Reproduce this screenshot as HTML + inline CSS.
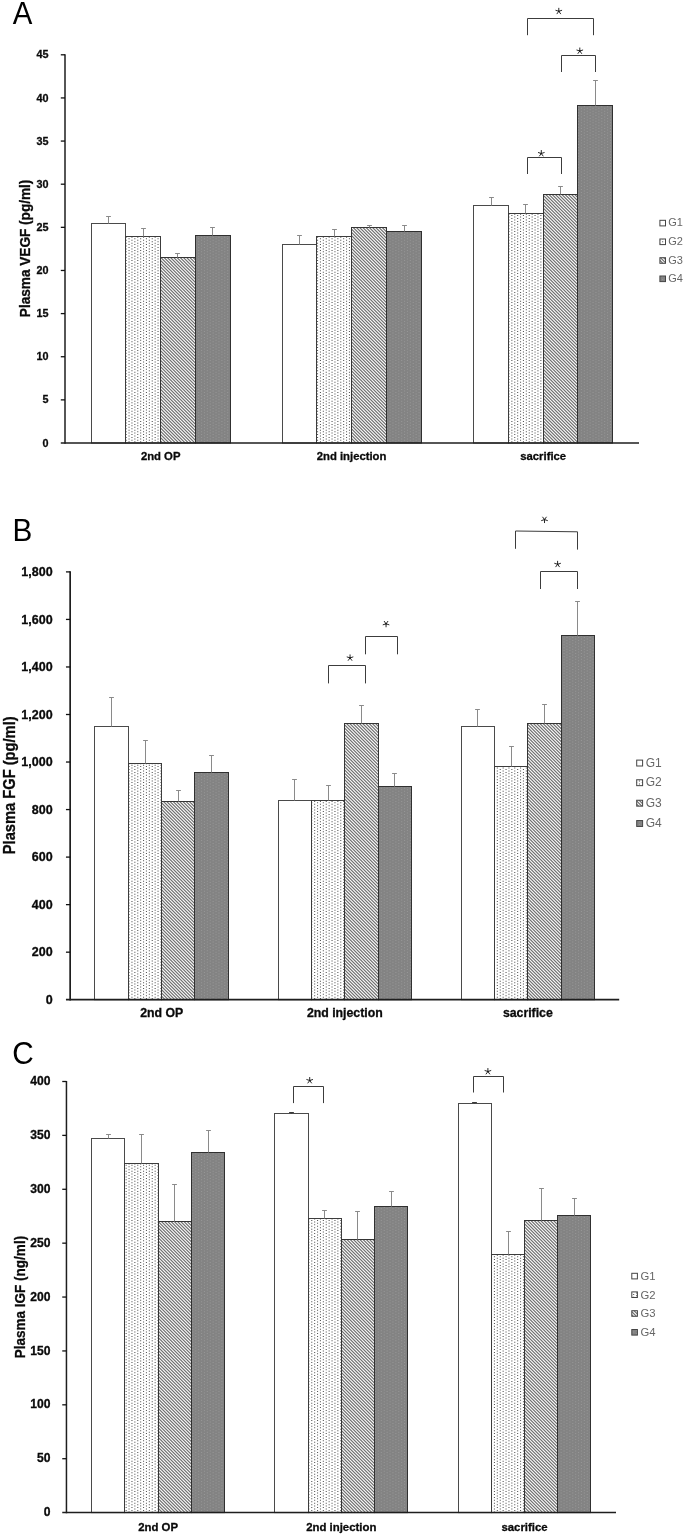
<!DOCTYPE html>
<html><head><meta charset="utf-8"><title>Figure</title>
<style>
html,body{margin:0;padding:0;background:#fff;}
body{width:685px;height:1535px;overflow:hidden;font-family:"Liberation Sans",sans-serif;}
svg{display:block;will-change:transform;}
.b{font-weight:bold;fill:#0a0a0a;stroke:#0a0a0a;stroke-width:0.3px;}
text{font-family:"Liberation Sans",sans-serif;}
</style></head><body>
<svg width="685" height="1535" viewBox="0 0 685 1535">
<defs>
<path id="dots" d="M0.9 0.5h1.1v1h-1.1zM3.8 1.95h1.1v1h-1.1zM6.7 0.5h1.1v1h-1.1zM9.6 1.95h1.1v1h-1.1zM12.5 0.5h1.1v1h-1.1zM15.4 1.95h1.1v1h-1.1zM18.3 0.5h1.1v1h-1.1zM21.2 1.95h1.1v1h-1.1zM24.1 0.5h1.1v1h-1.1zM27 1.95h1.1v1h-1.1zM0.9 3.4h1.1v1h-1.1zM3.8 4.85h1.1v1h-1.1zM6.7 3.4h1.1v1h-1.1zM9.6 4.85h1.1v1h-1.1zM12.5 3.4h1.1v1h-1.1zM15.4 4.85h1.1v1h-1.1zM18.3 3.4h1.1v1h-1.1zM21.2 4.85h1.1v1h-1.1zM24.1 3.4h1.1v1h-1.1zM27 4.85h1.1v1h-1.1zM0.9 6.3h1.1v1h-1.1zM3.8 7.75h1.1v1h-1.1zM6.7 6.3h1.1v1h-1.1zM9.6 7.75h1.1v1h-1.1zM12.5 6.3h1.1v1h-1.1zM15.4 7.75h1.1v1h-1.1zM18.3 6.3h1.1v1h-1.1zM21.2 7.75h1.1v1h-1.1zM24.1 6.3h1.1v1h-1.1zM27 7.75h1.1v1h-1.1zM0.9 9.2h1.1v1h-1.1zM3.8 10.65h1.1v1h-1.1zM6.7 9.2h1.1v1h-1.1zM9.6 10.65h1.1v1h-1.1zM12.5 9.2h1.1v1h-1.1zM15.4 10.65h1.1v1h-1.1zM18.3 9.2h1.1v1h-1.1zM21.2 10.65h1.1v1h-1.1zM24.1 9.2h1.1v1h-1.1zM27 10.65h1.1v1h-1.1zM0.9 12.1h1.1v1h-1.1zM3.8 13.55h1.1v1h-1.1zM6.7 12.1h1.1v1h-1.1zM9.6 13.55h1.1v1h-1.1zM12.5 12.1h1.1v1h-1.1zM15.4 13.55h1.1v1h-1.1zM18.3 12.1h1.1v1h-1.1zM21.2 13.55h1.1v1h-1.1zM24.1 12.1h1.1v1h-1.1zM27 13.55h1.1v1h-1.1zM0.9 15h1.1v1h-1.1zM3.8 16.45h1.1v1h-1.1zM6.7 15h1.1v1h-1.1zM9.6 16.45h1.1v1h-1.1zM12.5 15h1.1v1h-1.1zM15.4 16.45h1.1v1h-1.1zM18.3 15h1.1v1h-1.1zM21.2 16.45h1.1v1h-1.1zM24.1 15h1.1v1h-1.1zM27 16.45h1.1v1h-1.1zM0.9 17.9h1.1v1h-1.1zM3.8 19.35h1.1v1h-1.1zM6.7 17.9h1.1v1h-1.1zM9.6 19.35h1.1v1h-1.1zM12.5 17.9h1.1v1h-1.1zM15.4 19.35h1.1v1h-1.1zM18.3 17.9h1.1v1h-1.1zM21.2 19.35h1.1v1h-1.1zM24.1 17.9h1.1v1h-1.1zM27 19.35h1.1v1h-1.1zM0.9 20.8h1.1v1h-1.1zM3.8 22.25h1.1v1h-1.1zM6.7 20.8h1.1v1h-1.1zM9.6 22.25h1.1v1h-1.1zM12.5 20.8h1.1v1h-1.1zM15.4 22.25h1.1v1h-1.1zM18.3 20.8h1.1v1h-1.1zM21.2 22.25h1.1v1h-1.1zM24.1 20.8h1.1v1h-1.1zM27 22.25h1.1v1h-1.1zM0.9 23.7h1.1v1h-1.1zM3.8 25.15h1.1v1h-1.1zM6.7 23.7h1.1v1h-1.1zM9.6 25.15h1.1v1h-1.1zM12.5 23.7h1.1v1h-1.1zM15.4 25.15h1.1v1h-1.1zM18.3 23.7h1.1v1h-1.1zM21.2 25.15h1.1v1h-1.1zM24.1 23.7h1.1v1h-1.1zM27 25.15h1.1v1h-1.1zM0.9 26.6h1.1v1h-1.1zM3.8 28.05h1.1v1h-1.1zM6.7 26.6h1.1v1h-1.1zM9.6 28.05h1.1v1h-1.1zM12.5 26.6h1.1v1h-1.1zM15.4 28.05h1.1v1h-1.1zM18.3 26.6h1.1v1h-1.1zM21.2 28.05h1.1v1h-1.1zM24.1 26.6h1.1v1h-1.1zM27 28.05h1.1v1h-1.1z"/>
<pattern id="p2" width="29" height="29" patternUnits="userSpaceOnUse"><rect width="29" height="29" fill="#fff"/><use href="#dots" fill="#585858"/></pattern>
<pattern id="p4" width="29" height="29" patternUnits="userSpaceOnUse"><rect width="29" height="29" fill="#838383"/><use href="#dots" fill="#969696"/></pattern>
<pattern id="p3" width="29" height="29" patternUnits="userSpaceOnUse"><g shape-rendering="crispEdges"><path fill="#727272" d="M0 0h1v1h-1zM1 1h1v1h-1zM2 2h1v1h-1zM3 3h1v1h-1zM4 4h1v1h-1zM5 5h1v1h-1zM6 6h1v1h-1zM7 7h1v1h-1zM8 8h1v1h-1zM9 9h1v1h-1zM10 10h1v1h-1zM11 11h1v1h-1zM12 12h1v1h-1zM13 13h1v1h-1zM14 14h1v1h-1zM15 15h1v1h-1zM16 16h1v1h-1zM17 17h1v1h-1zM18 18h1v1h-1zM19 19h1v1h-1zM20 20h1v1h-1zM21 21h1v1h-1zM22 22h1v1h-1zM23 23h1v1h-1zM24 24h1v1h-1zM25 25h1v1h-1zM26 26h1v1h-1zM27 27h1v1h-1zM28 28h1v1h-1z"/><path fill="#cccccc" d="M1 0h1v1h-1zM2 1h1v1h-1zM3 2h1v1h-1zM4 3h1v1h-1zM5 4h1v1h-1zM6 5h1v1h-1zM7 6h1v1h-1zM8 7h1v1h-1zM9 8h1v1h-1zM10 9h1v1h-1zM11 10h1v1h-1zM12 11h1v1h-1zM13 12h1v1h-1zM14 13h1v1h-1zM15 14h1v1h-1zM16 15h1v1h-1zM17 16h1v1h-1zM18 17h1v1h-1zM19 18h1v1h-1zM20 19h1v1h-1zM21 20h1v1h-1zM22 21h1v1h-1zM23 22h1v1h-1zM24 23h1v1h-1zM25 24h1v1h-1zM26 25h1v1h-1zM27 26h1v1h-1zM28 27h1v1h-1zM0 28h1v1h-1z"/><path fill="#e4e4e4" d="M2 0h1v1h-1zM3 1h1v1h-1zM4 2h1v1h-1zM5 3h1v1h-1zM6 4h1v1h-1zM7 5h1v1h-1zM8 6h1v1h-1zM9 7h1v1h-1zM10 8h1v1h-1zM11 9h1v1h-1zM12 10h1v1h-1zM13 11h1v1h-1zM14 12h1v1h-1zM15 13h1v1h-1zM16 14h1v1h-1zM17 15h1v1h-1zM18 16h1v1h-1zM19 17h1v1h-1zM20 18h1v1h-1zM21 19h1v1h-1zM22 20h1v1h-1zM23 21h1v1h-1zM24 22h1v1h-1zM25 23h1v1h-1zM26 24h1v1h-1zM27 25h1v1h-1zM28 26h1v1h-1zM0 27h1v1h-1zM1 28h1v1h-1z"/><path fill="#787878" d="M3 0h1v1h-1zM4 1h1v1h-1zM5 2h1v1h-1zM6 3h1v1h-1zM7 4h1v1h-1zM8 5h1v1h-1zM9 6h1v1h-1zM10 7h1v1h-1zM11 8h1v1h-1zM12 9h1v1h-1zM13 10h1v1h-1zM14 11h1v1h-1zM15 12h1v1h-1zM16 13h1v1h-1zM17 14h1v1h-1zM18 15h1v1h-1zM19 16h1v1h-1zM20 17h1v1h-1zM21 18h1v1h-1zM22 19h1v1h-1zM23 20h1v1h-1zM24 21h1v1h-1zM25 22h1v1h-1zM26 23h1v1h-1zM27 24h1v1h-1zM28 25h1v1h-1zM0 26h1v1h-1zM1 27h1v1h-1zM2 28h1v1h-1z"/><path fill="#b0b0b0" d="M4 0h1v1h-1zM5 1h1v1h-1zM6 2h1v1h-1zM7 3h1v1h-1zM8 4h1v1h-1zM9 5h1v1h-1zM10 6h1v1h-1zM11 7h1v1h-1zM12 8h1v1h-1zM13 9h1v1h-1zM14 10h1v1h-1zM15 11h1v1h-1zM16 12h1v1h-1zM17 13h1v1h-1zM18 14h1v1h-1zM19 15h1v1h-1zM20 16h1v1h-1zM21 17h1v1h-1zM22 18h1v1h-1zM23 19h1v1h-1zM24 20h1v1h-1zM25 21h1v1h-1zM26 22h1v1h-1zM27 23h1v1h-1zM28 24h1v1h-1zM0 25h1v1h-1zM1 26h1v1h-1zM2 27h1v1h-1zM3 28h1v1h-1z"/><path fill="#f3f3f3" d="M5 0h1v1h-1zM6 1h1v1h-1zM7 2h1v1h-1zM8 3h1v1h-1zM9 4h1v1h-1zM10 5h1v1h-1zM11 6h1v1h-1zM12 7h1v1h-1zM13 8h1v1h-1zM14 9h1v1h-1zM15 10h1v1h-1zM16 11h1v1h-1zM17 12h1v1h-1zM18 13h1v1h-1zM19 14h1v1h-1zM20 15h1v1h-1zM21 16h1v1h-1zM22 17h1v1h-1zM23 18h1v1h-1zM24 19h1v1h-1zM25 20h1v1h-1zM26 21h1v1h-1zM27 22h1v1h-1zM28 23h1v1h-1zM0 24h1v1h-1zM1 25h1v1h-1zM2 26h1v1h-1zM3 27h1v1h-1zM4 28h1v1h-1z"/><path fill="#898989" d="M6 0h1v1h-1zM7 1h1v1h-1zM8 2h1v1h-1zM9 3h1v1h-1zM10 4h1v1h-1zM11 5h1v1h-1zM12 6h1v1h-1zM13 7h1v1h-1zM14 8h1v1h-1zM15 9h1v1h-1zM16 10h1v1h-1zM17 11h1v1h-1zM18 12h1v1h-1zM19 13h1v1h-1zM20 14h1v1h-1zM21 15h1v1h-1zM22 16h1v1h-1zM23 17h1v1h-1zM24 18h1v1h-1zM25 19h1v1h-1zM26 20h1v1h-1zM27 21h1v1h-1zM28 22h1v1h-1zM0 23h1v1h-1zM1 24h1v1h-1zM2 25h1v1h-1zM3 26h1v1h-1zM4 27h1v1h-1zM5 28h1v1h-1z"/><path fill="#959595" d="M7 0h1v1h-1zM8 1h1v1h-1zM9 2h1v1h-1zM10 3h1v1h-1zM11 4h1v1h-1zM12 5h1v1h-1zM13 6h1v1h-1zM14 7h1v1h-1zM15 8h1v1h-1zM16 9h1v1h-1zM17 10h1v1h-1zM18 11h1v1h-1zM19 12h1v1h-1zM20 13h1v1h-1zM21 14h1v1h-1zM22 15h1v1h-1zM23 16h1v1h-1zM24 17h1v1h-1zM25 18h1v1h-1zM26 19h1v1h-1zM27 20h1v1h-1zM28 21h1v1h-1zM0 22h1v1h-1zM1 23h1v1h-1zM2 24h1v1h-1zM3 25h1v1h-1zM4 26h1v1h-1zM5 27h1v1h-1zM6 28h1v1h-1z"/><path fill="#f6f6f6" d="M8 0h1v1h-1zM9 1h1v1h-1zM10 2h1v1h-1zM11 3h1v1h-1zM12 4h1v1h-1zM13 5h1v1h-1zM14 6h1v1h-1zM15 7h1v1h-1zM16 8h1v1h-1zM17 9h1v1h-1zM18 10h1v1h-1zM19 11h1v1h-1zM20 12h1v1h-1zM21 13h1v1h-1zM22 14h1v1h-1zM23 15h1v1h-1zM24 16h1v1h-1zM25 17h1v1h-1zM26 18h1v1h-1zM27 19h1v1h-1zM28 20h1v1h-1zM0 21h1v1h-1zM1 22h1v1h-1zM2 23h1v1h-1zM3 24h1v1h-1zM4 25h1v1h-1zM5 26h1v1h-1zM6 27h1v1h-1zM7 28h1v1h-1z"/><path fill="#a2a2a2" d="M9 0h1v1h-1zM10 1h1v1h-1zM11 2h1v1h-1zM12 3h1v1h-1zM13 4h1v1h-1zM14 5h1v1h-1zM15 6h1v1h-1zM16 7h1v1h-1zM17 8h1v1h-1zM18 9h1v1h-1zM19 10h1v1h-1zM20 11h1v1h-1zM21 12h1v1h-1zM22 13h1v1h-1zM23 14h1v1h-1zM24 15h1v1h-1zM25 16h1v1h-1zM26 17h1v1h-1zM27 18h1v1h-1zM28 19h1v1h-1zM0 20h1v1h-1zM1 21h1v1h-1zM2 22h1v1h-1zM3 23h1v1h-1zM4 24h1v1h-1zM5 25h1v1h-1zM6 26h1v1h-1zM7 27h1v1h-1zM8 28h1v1h-1z"/><path fill="#7f7f7f" d="M10 0h1v1h-1zM11 1h1v1h-1zM12 2h1v1h-1zM13 3h1v1h-1zM14 4h1v1h-1zM15 5h1v1h-1zM16 6h1v1h-1zM17 7h1v1h-1zM18 8h1v1h-1zM19 9h1v1h-1zM20 10h1v1h-1zM21 11h1v1h-1zM22 12h1v1h-1zM23 13h1v1h-1zM24 14h1v1h-1zM25 15h1v1h-1zM26 16h1v1h-1zM27 17h1v1h-1zM28 18h1v1h-1zM0 19h1v1h-1zM1 20h1v1h-1zM2 21h1v1h-1zM3 22h1v1h-1zM4 23h1v1h-1zM5 24h1v1h-1zM6 25h1v1h-1zM7 26h1v1h-1zM8 27h1v1h-1zM9 28h1v1h-1z"/><path fill="#ededed" d="M11 0h1v1h-1zM12 1h1v1h-1zM13 2h1v1h-1zM14 3h1v1h-1zM15 4h1v1h-1zM16 5h1v1h-1zM17 6h1v1h-1zM18 7h1v1h-1zM19 8h1v1h-1zM20 9h1v1h-1zM21 10h1v1h-1zM22 11h1v1h-1zM23 12h1v1h-1zM24 13h1v1h-1zM25 14h1v1h-1zM26 15h1v1h-1zM27 16h1v1h-1zM28 17h1v1h-1zM0 18h1v1h-1zM1 19h1v1h-1zM2 20h1v1h-1zM3 21h1v1h-1zM4 22h1v1h-1zM5 23h1v1h-1zM6 24h1v1h-1zM7 25h1v1h-1zM8 26h1v1h-1zM9 27h1v1h-1zM10 28h1v1h-1z"/><path fill="#bfbfbf" d="M12 0h1v1h-1zM13 1h1v1h-1zM14 2h1v1h-1zM15 3h1v1h-1zM16 4h1v1h-1zM17 5h1v1h-1zM18 6h1v1h-1zM19 7h1v1h-1zM20 8h1v1h-1zM21 9h1v1h-1zM22 10h1v1h-1zM23 11h1v1h-1zM24 12h1v1h-1zM25 13h1v1h-1zM26 14h1v1h-1zM27 15h1v1h-1zM28 16h1v1h-1zM0 17h1v1h-1zM1 18h1v1h-1zM2 19h1v1h-1zM3 20h1v1h-1zM4 21h1v1h-1zM5 22h1v1h-1zM6 23h1v1h-1zM7 24h1v1h-1zM8 25h1v1h-1zM9 26h1v1h-1zM10 27h1v1h-1zM11 28h1v1h-1z"/><path fill="#747474" d="M13 0h1v1h-1zM14 1h1v1h-1zM15 2h1v1h-1zM16 3h1v1h-1zM17 4h1v1h-1zM18 5h1v1h-1zM19 6h1v1h-1zM20 7h1v1h-1zM21 8h1v1h-1zM22 9h1v1h-1zM23 10h1v1h-1zM24 11h1v1h-1zM25 12h1v1h-1zM26 13h1v1h-1zM27 14h1v1h-1zM28 15h1v1h-1zM0 16h1v1h-1zM1 17h1v1h-1zM2 18h1v1h-1zM3 19h1v1h-1zM4 20h1v1h-1zM5 21h1v1h-1zM6 22h1v1h-1zM7 23h1v1h-1zM8 24h1v1h-1zM9 25h1v1h-1zM10 26h1v1h-1zM11 27h1v1h-1zM12 28h1v1h-1z"/><path fill="#d9d9d9" d="M14 0h1v1h-1zM15 1h1v1h-1zM16 2h1v1h-1zM17 3h1v1h-1zM18 4h1v1h-1zM19 5h1v1h-1zM20 6h1v1h-1zM21 7h1v1h-1zM22 8h1v1h-1zM23 9h1v1h-1zM24 10h1v1h-1zM25 11h1v1h-1zM26 12h1v1h-1zM27 13h1v1h-1zM28 14h1v1h-1zM0 15h1v1h-1zM1 16h1v1h-1zM2 17h1v1h-1zM3 18h1v1h-1zM4 19h1v1h-1zM5 20h1v1h-1zM6 21h1v1h-1zM7 22h1v1h-1zM8 23h1v1h-1zM9 24h1v1h-1zM10 25h1v1h-1zM11 26h1v1h-1zM12 27h1v1h-1zM13 28h1v1h-1z"/><path fill="#d9d9d9" d="M15 0h1v1h-1zM16 1h1v1h-1zM17 2h1v1h-1zM18 3h1v1h-1zM19 4h1v1h-1zM20 5h1v1h-1zM21 6h1v1h-1zM22 7h1v1h-1zM23 8h1v1h-1zM24 9h1v1h-1zM25 10h1v1h-1zM26 11h1v1h-1zM27 12h1v1h-1zM28 13h1v1h-1zM0 14h1v1h-1zM1 15h1v1h-1zM2 16h1v1h-1zM3 17h1v1h-1zM4 18h1v1h-1zM5 19h1v1h-1zM6 20h1v1h-1zM7 21h1v1h-1zM8 22h1v1h-1zM9 23h1v1h-1zM10 24h1v1h-1zM11 25h1v1h-1zM12 26h1v1h-1zM13 27h1v1h-1zM14 28h1v1h-1z"/><path fill="#747474" d="M16 0h1v1h-1zM17 1h1v1h-1zM18 2h1v1h-1zM19 3h1v1h-1zM20 4h1v1h-1zM21 5h1v1h-1zM22 6h1v1h-1zM23 7h1v1h-1zM24 8h1v1h-1zM25 9h1v1h-1zM26 10h1v1h-1zM27 11h1v1h-1zM28 12h1v1h-1zM0 13h1v1h-1zM1 14h1v1h-1zM2 15h1v1h-1zM3 16h1v1h-1zM4 17h1v1h-1zM5 18h1v1h-1zM6 19h1v1h-1zM7 20h1v1h-1zM8 21h1v1h-1zM9 22h1v1h-1zM10 23h1v1h-1zM11 24h1v1h-1zM12 25h1v1h-1zM13 26h1v1h-1zM14 27h1v1h-1zM15 28h1v1h-1z"/><path fill="#bfbfbf" d="M17 0h1v1h-1zM18 1h1v1h-1zM19 2h1v1h-1zM20 3h1v1h-1zM21 4h1v1h-1zM22 5h1v1h-1zM23 6h1v1h-1zM24 7h1v1h-1zM25 8h1v1h-1zM26 9h1v1h-1zM27 10h1v1h-1zM28 11h1v1h-1zM0 12h1v1h-1zM1 13h1v1h-1zM2 14h1v1h-1zM3 15h1v1h-1zM4 16h1v1h-1zM5 17h1v1h-1zM6 18h1v1h-1zM7 19h1v1h-1zM8 20h1v1h-1zM9 21h1v1h-1zM10 22h1v1h-1zM11 23h1v1h-1zM12 24h1v1h-1zM13 25h1v1h-1zM14 26h1v1h-1zM15 27h1v1h-1zM16 28h1v1h-1z"/><path fill="#ededed" d="M18 0h1v1h-1zM19 1h1v1h-1zM20 2h1v1h-1zM21 3h1v1h-1zM22 4h1v1h-1zM23 5h1v1h-1zM24 6h1v1h-1zM25 7h1v1h-1zM26 8h1v1h-1zM27 9h1v1h-1zM28 10h1v1h-1zM0 11h1v1h-1zM1 12h1v1h-1zM2 13h1v1h-1zM3 14h1v1h-1zM4 15h1v1h-1zM5 16h1v1h-1zM6 17h1v1h-1zM7 18h1v1h-1zM8 19h1v1h-1zM9 20h1v1h-1zM10 21h1v1h-1zM11 22h1v1h-1zM12 23h1v1h-1zM13 24h1v1h-1zM14 25h1v1h-1zM15 26h1v1h-1zM16 27h1v1h-1zM17 28h1v1h-1z"/><path fill="#7f7f7f" d="M19 0h1v1h-1zM20 1h1v1h-1zM21 2h1v1h-1zM22 3h1v1h-1zM23 4h1v1h-1zM24 5h1v1h-1zM25 6h1v1h-1zM26 7h1v1h-1zM27 8h1v1h-1zM28 9h1v1h-1zM0 10h1v1h-1zM1 11h1v1h-1zM2 12h1v1h-1zM3 13h1v1h-1zM4 14h1v1h-1zM5 15h1v1h-1zM6 16h1v1h-1zM7 17h1v1h-1zM8 18h1v1h-1zM9 19h1v1h-1zM10 20h1v1h-1zM11 21h1v1h-1zM12 22h1v1h-1zM13 23h1v1h-1zM14 24h1v1h-1zM15 25h1v1h-1zM16 26h1v1h-1zM17 27h1v1h-1zM18 28h1v1h-1z"/><path fill="#a2a2a2" d="M20 0h1v1h-1zM21 1h1v1h-1zM22 2h1v1h-1zM23 3h1v1h-1zM24 4h1v1h-1zM25 5h1v1h-1zM26 6h1v1h-1zM27 7h1v1h-1zM28 8h1v1h-1zM0 9h1v1h-1zM1 10h1v1h-1zM2 11h1v1h-1zM3 12h1v1h-1zM4 13h1v1h-1zM5 14h1v1h-1zM6 15h1v1h-1zM7 16h1v1h-1zM8 17h1v1h-1zM9 18h1v1h-1zM10 19h1v1h-1zM11 20h1v1h-1zM12 21h1v1h-1zM13 22h1v1h-1zM14 23h1v1h-1zM15 24h1v1h-1zM16 25h1v1h-1zM17 26h1v1h-1zM18 27h1v1h-1zM19 28h1v1h-1z"/><path fill="#f6f6f6" d="M21 0h1v1h-1zM22 1h1v1h-1zM23 2h1v1h-1zM24 3h1v1h-1zM25 4h1v1h-1zM26 5h1v1h-1zM27 6h1v1h-1zM28 7h1v1h-1zM0 8h1v1h-1zM1 9h1v1h-1zM2 10h1v1h-1zM3 11h1v1h-1zM4 12h1v1h-1zM5 13h1v1h-1zM6 14h1v1h-1zM7 15h1v1h-1zM8 16h1v1h-1zM9 17h1v1h-1zM10 18h1v1h-1zM11 19h1v1h-1zM12 20h1v1h-1zM13 21h1v1h-1zM14 22h1v1h-1zM15 23h1v1h-1zM16 24h1v1h-1zM17 25h1v1h-1zM18 26h1v1h-1zM19 27h1v1h-1zM20 28h1v1h-1z"/><path fill="#959595" d="M22 0h1v1h-1zM23 1h1v1h-1zM24 2h1v1h-1zM25 3h1v1h-1zM26 4h1v1h-1zM27 5h1v1h-1zM28 6h1v1h-1zM0 7h1v1h-1zM1 8h1v1h-1zM2 9h1v1h-1zM3 10h1v1h-1zM4 11h1v1h-1zM5 12h1v1h-1zM6 13h1v1h-1zM7 14h1v1h-1zM8 15h1v1h-1zM9 16h1v1h-1zM10 17h1v1h-1zM11 18h1v1h-1zM12 19h1v1h-1zM13 20h1v1h-1zM14 21h1v1h-1zM15 22h1v1h-1zM16 23h1v1h-1zM17 24h1v1h-1zM18 25h1v1h-1zM19 26h1v1h-1zM20 27h1v1h-1zM21 28h1v1h-1z"/><path fill="#898989" d="M23 0h1v1h-1zM24 1h1v1h-1zM25 2h1v1h-1zM26 3h1v1h-1zM27 4h1v1h-1zM28 5h1v1h-1zM0 6h1v1h-1zM1 7h1v1h-1zM2 8h1v1h-1zM3 9h1v1h-1zM4 10h1v1h-1zM5 11h1v1h-1zM6 12h1v1h-1zM7 13h1v1h-1zM8 14h1v1h-1zM9 15h1v1h-1zM10 16h1v1h-1zM11 17h1v1h-1zM12 18h1v1h-1zM13 19h1v1h-1zM14 20h1v1h-1zM15 21h1v1h-1zM16 22h1v1h-1zM17 23h1v1h-1zM18 24h1v1h-1zM19 25h1v1h-1zM20 26h1v1h-1zM21 27h1v1h-1zM22 28h1v1h-1z"/><path fill="#f3f3f3" d="M24 0h1v1h-1zM25 1h1v1h-1zM26 2h1v1h-1zM27 3h1v1h-1zM28 4h1v1h-1zM0 5h1v1h-1zM1 6h1v1h-1zM2 7h1v1h-1zM3 8h1v1h-1zM4 9h1v1h-1zM5 10h1v1h-1zM6 11h1v1h-1zM7 12h1v1h-1zM8 13h1v1h-1zM9 14h1v1h-1zM10 15h1v1h-1zM11 16h1v1h-1zM12 17h1v1h-1zM13 18h1v1h-1zM14 19h1v1h-1zM15 20h1v1h-1zM16 21h1v1h-1zM17 22h1v1h-1zM18 23h1v1h-1zM19 24h1v1h-1zM20 25h1v1h-1zM21 26h1v1h-1zM22 27h1v1h-1zM23 28h1v1h-1z"/><path fill="#b0b0b0" d="M25 0h1v1h-1zM26 1h1v1h-1zM27 2h1v1h-1zM28 3h1v1h-1zM0 4h1v1h-1zM1 5h1v1h-1zM2 6h1v1h-1zM3 7h1v1h-1zM4 8h1v1h-1zM5 9h1v1h-1zM6 10h1v1h-1zM7 11h1v1h-1zM8 12h1v1h-1zM9 13h1v1h-1zM10 14h1v1h-1zM11 15h1v1h-1zM12 16h1v1h-1zM13 17h1v1h-1zM14 18h1v1h-1zM15 19h1v1h-1zM16 20h1v1h-1zM17 21h1v1h-1zM18 22h1v1h-1zM19 23h1v1h-1zM20 24h1v1h-1zM21 25h1v1h-1zM22 26h1v1h-1zM23 27h1v1h-1zM24 28h1v1h-1z"/><path fill="#787878" d="M26 0h1v1h-1zM27 1h1v1h-1zM28 2h1v1h-1zM0 3h1v1h-1zM1 4h1v1h-1zM2 5h1v1h-1zM3 6h1v1h-1zM4 7h1v1h-1zM5 8h1v1h-1zM6 9h1v1h-1zM7 10h1v1h-1zM8 11h1v1h-1zM9 12h1v1h-1zM10 13h1v1h-1zM11 14h1v1h-1zM12 15h1v1h-1zM13 16h1v1h-1zM14 17h1v1h-1zM15 18h1v1h-1zM16 19h1v1h-1zM17 20h1v1h-1zM18 21h1v1h-1zM19 22h1v1h-1zM20 23h1v1h-1zM21 24h1v1h-1zM22 25h1v1h-1zM23 26h1v1h-1zM24 27h1v1h-1zM25 28h1v1h-1z"/><path fill="#e4e4e4" d="M27 0h1v1h-1zM28 1h1v1h-1zM0 2h1v1h-1zM1 3h1v1h-1zM2 4h1v1h-1zM3 5h1v1h-1zM4 6h1v1h-1zM5 7h1v1h-1zM6 8h1v1h-1zM7 9h1v1h-1zM8 10h1v1h-1zM9 11h1v1h-1zM10 12h1v1h-1zM11 13h1v1h-1zM12 14h1v1h-1zM13 15h1v1h-1zM14 16h1v1h-1zM15 17h1v1h-1zM16 18h1v1h-1zM17 19h1v1h-1zM18 20h1v1h-1zM19 21h1v1h-1zM20 22h1v1h-1zM21 23h1v1h-1zM22 24h1v1h-1zM23 25h1v1h-1zM24 26h1v1h-1zM25 27h1v1h-1zM26 28h1v1h-1z"/><path fill="#cccccc" d="M28 0h1v1h-1zM0 1h1v1h-1zM1 2h1v1h-1zM2 3h1v1h-1zM3 4h1v1h-1zM4 5h1v1h-1zM5 6h1v1h-1zM6 7h1v1h-1zM7 8h1v1h-1zM8 9h1v1h-1zM9 10h1v1h-1zM10 11h1v1h-1zM11 12h1v1h-1zM12 13h1v1h-1zM13 14h1v1h-1zM14 15h1v1h-1zM15 16h1v1h-1zM16 17h1v1h-1zM17 18h1v1h-1zM18 19h1v1h-1zM19 20h1v1h-1zM20 21h1v1h-1zM21 22h1v1h-1zM22 23h1v1h-1zM23 24h1v1h-1zM24 25h1v1h-1zM25 26h1v1h-1zM26 27h1v1h-1zM27 28h1v1h-1z"/></g></pattern>
</defs>
<rect width="685" height="1535" fill="#fff"/>
<rect x="91.5" y="223.5" width="34" height="219.5" fill="#fff" stroke="#4a4a4a" stroke-width="1"/>
<rect x="125.5" y="236.5" width="35" height="206.5" fill="url(#p2)" stroke="#3c3c3c" stroke-width="1"/>
<rect x="160.5" y="257.5" width="35" height="185.5" fill="url(#p3)" stroke="#343434" stroke-width="1"/>
<rect x="195.5" y="235.5" width="35" height="207.5" fill="url(#p4)" stroke="#303030" stroke-width="1"/>
<path d="M108.5 223.5L108.5 216.5M106.1 216.5L110.9 216.5" stroke="#8a8a8a" stroke-width="1" fill="none"/>
<path d="M143.5 236.5L143.5 228.5M141.1 228.5L145.9 228.5" stroke="#8a8a8a" stroke-width="1" fill="none"/>
<path d="M177.5 257.5L177.5 253.5M175.1 253.5L179.9 253.5" stroke="#8a8a8a" stroke-width="1" fill="none"/>
<path d="M212.5 235.5L212.5 227.5M210.1 227.5L214.9 227.5" stroke="#8a8a8a" stroke-width="1" fill="none"/>
<rect x="282.5" y="244.5" width="34" height="198.5" fill="#fff" stroke="#4a4a4a" stroke-width="1"/>
<rect x="316.5" y="236.5" width="35" height="206.5" fill="url(#p2)" stroke="#3c3c3c" stroke-width="1"/>
<rect x="351.5" y="227.5" width="35" height="215.5" fill="url(#p3)" stroke="#343434" stroke-width="1"/>
<rect x="386.5" y="231.5" width="35" height="211.5" fill="url(#p4)" stroke="#303030" stroke-width="1"/>
<path d="M299.5 244.5L299.5 235.5M297.1 235.5L301.9 235.5" stroke="#8a8a8a" stroke-width="1" fill="none"/>
<path d="M334.5 236.5L334.5 229.5M332.1 229.5L336.9 229.5" stroke="#8a8a8a" stroke-width="1" fill="none"/>
<path d="M369.5 227.5L369.5 225.5M367.1 225.5L371.9 225.5" stroke="#8a8a8a" stroke-width="1" fill="none"/>
<path d="M404.5 231.5L404.5 225.5M402.1 225.5L406.9 225.5" stroke="#8a8a8a" stroke-width="1" fill="none"/>
<rect x="473.5" y="205.5" width="35" height="237.5" fill="#fff" stroke="#4a4a4a" stroke-width="1"/>
<rect x="508.5" y="213.5" width="35" height="229.5" fill="url(#p2)" stroke="#3c3c3c" stroke-width="1"/>
<rect x="543.5" y="194.5" width="34" height="248.5" fill="url(#p3)" stroke="#343434" stroke-width="1"/>
<rect x="577.5" y="105.5" width="35" height="337.5" fill="url(#p4)" stroke="#303030" stroke-width="1"/>
<path d="M491.5 205.5L491.5 197.5M489.1 197.5L493.9 197.5" stroke="#8a8a8a" stroke-width="1" fill="none"/>
<path d="M525.5 213.5L525.5 204.5M523.1 204.5L527.9 204.5" stroke="#8a8a8a" stroke-width="1" fill="none"/>
<path d="M560.5 194.5L560.5 186.5M558.1 186.5L562.9 186.5" stroke="#8a8a8a" stroke-width="1" fill="none"/>
<path d="M595.5 105.5L595.5 80.5M593.1 80.5L597.9 80.5" stroke="#8a8a8a" stroke-width="1" fill="none"/>
<path d="M65 54.2L65 443.7" stroke="#1e1e1e" stroke-width="1.5" fill="none"/>
<path d="M60.8 443L639 443" stroke="#1e1e1e" stroke-width="1.5" fill="none"/>
<text x="48.4" y="446.6" font-size="10.8" class="b" text-anchor="end">0</text>
<path d="M60.8 399.87L65 399.87" stroke="#111" stroke-width="1.3" fill="none"/>
<text x="48.4" y="403.47" font-size="10.8" class="b" text-anchor="end">5</text>
<path d="M60.8 356.73L65 356.73" stroke="#111" stroke-width="1.3" fill="none"/>
<text x="48.4" y="360.33" font-size="10.8" class="b" text-anchor="end">10</text>
<path d="M60.8 313.6L65 313.6" stroke="#111" stroke-width="1.3" fill="none"/>
<text x="48.4" y="317.2" font-size="10.8" class="b" text-anchor="end">15</text>
<path d="M60.8 270.47L65 270.47" stroke="#111" stroke-width="1.3" fill="none"/>
<text x="48.4" y="274.07" font-size="10.8" class="b" text-anchor="end">20</text>
<path d="M60.8 227.33L65 227.33" stroke="#111" stroke-width="1.3" fill="none"/>
<text x="48.4" y="230.93" font-size="10.8" class="b" text-anchor="end">25</text>
<path d="M60.8 184.2L65 184.2" stroke="#111" stroke-width="1.3" fill="none"/>
<text x="48.4" y="187.8" font-size="10.8" class="b" text-anchor="end">30</text>
<path d="M60.8 141.07L65 141.07" stroke="#111" stroke-width="1.3" fill="none"/>
<text x="48.4" y="144.67" font-size="10.8" class="b" text-anchor="end">35</text>
<path d="M60.8 97.93L65 97.93" stroke="#111" stroke-width="1.3" fill="none"/>
<text x="48.4" y="101.53" font-size="10.8" class="b" text-anchor="end">40</text>
<path d="M60.8 54.8L65 54.8" stroke="#111" stroke-width="1.3" fill="none"/>
<text x="48.4" y="58.4" font-size="10.8" class="b" text-anchor="end">45</text>
<text x="160.65" y="460.1" font-size="11.3" class="b" text-anchor="middle">2nd OP</text>
<text x="351.6" y="460.1" font-size="11.3" class="b" text-anchor="middle">2nd injection</text>
<text x="543.2" y="460.1" font-size="11.3" class="b" text-anchor="middle">sacrifice</text>
<text transform="translate(30.2 248.4) rotate(-90)" x="-68.8" font-size="14.4" class="b" textLength="137.6" lengthAdjust="spacingAndGlyphs">Plasma VEGF (pg/ml)</text>
<text transform="translate(12.7 23.8) scale(0.94 1)" font-size="31.3" fill="#000">A</text>
<path d="M527.5 35.2L527.5 18.5L593.5 18.5L593.5 35.2" stroke="#3c3c3c" stroke-width="1" fill="none"/>
<path d="M558.8 11.3L558.8 8.25M558.8 11.3L561.7 10.36M558.8 11.3L560.59 13.77M558.8 11.3L557.01 13.77M558.8 11.3L555.9 10.36" stroke="#1c1c1c" stroke-width="0.95" fill="none" stroke-linecap="round"/><circle cx="558.8" cy="11.3" r="0.75" fill="#1c1c1c"/>
<path d="M561.5 72L561.5 55.5L595.5 55.5L595.5 72" stroke="#3c3c3c" stroke-width="1" fill="none"/>
<path d="M579.8 51L579.8 47.95M579.8 51L582.7 50.06M579.8 51L581.59 53.47M579.8 51L578.01 53.47M579.8 51L576.9 50.06" stroke="#1c1c1c" stroke-width="0.95" fill="none" stroke-linecap="round"/><circle cx="579.8" cy="51" r="0.75" fill="#1c1c1c"/>
<path d="M527.5 174L527.5 157.5L561.5 157.5L561.5 174" stroke="#3c3c3c" stroke-width="1" fill="none"/>
<path d="M541.3 153.5L541.3 150.45M541.3 153.5L544.2 152.56M541.3 153.5L543.09 155.97M541.3 153.5L539.51 155.97M541.3 153.5L538.4 152.56" stroke="#1c1c1c" stroke-width="0.95" fill="none" stroke-linecap="round"/><circle cx="541.3" cy="153.5" r="0.75" fill="#1c1c1c"/>
<rect x="659.9" y="220.3" width="5.6" height="5.6" fill="#fff" stroke="#444" stroke-width="1"/>
<text x="668.2" y="226.1" font-size="11" fill="#666">G1</text>
<rect x="659.9" y="239" width="5.6" height="5.6" fill="url(#p2)" stroke="#444" stroke-width="1"/>
<text x="668.2" y="244.8" font-size="11" fill="#666">G2</text>
<rect x="659.9" y="257.7" width="5.6" height="5.6" fill="url(#p3)" stroke="#444" stroke-width="1"/>
<text x="668.2" y="263.5" font-size="11" fill="#666">G3</text>
<rect x="659.9" y="276" width="5.6" height="5.6" fill="url(#p4)" stroke="#444" stroke-width="1"/>
<text x="668.2" y="281.8" font-size="11" fill="#666">G4</text>
<rect x="94.5" y="726.5" width="34" height="273.2" fill="#fff" stroke="#4a4a4a" stroke-width="1"/>
<rect x="128.5" y="763.5" width="33" height="236.2" fill="url(#p2)" stroke="#3c3c3c" stroke-width="1"/>
<rect x="161.5" y="801.5" width="33" height="198.2" fill="url(#p3)" stroke="#343434" stroke-width="1"/>
<rect x="194.5" y="772.5" width="34" height="227.2" fill="url(#p4)" stroke="#303030" stroke-width="1"/>
<path d="M111.5 726.5L111.5 697.5M109.1 697.5L113.9 697.5" stroke="#8a8a8a" stroke-width="1" fill="none"/>
<path d="M145.5 763.5L145.5 740.5M143.1 740.5L147.9 740.5" stroke="#8a8a8a" stroke-width="1" fill="none"/>
<path d="M178.5 801.5L178.5 790.5M176.1 790.5L180.9 790.5" stroke="#8a8a8a" stroke-width="1" fill="none"/>
<path d="M211.5 772.5L211.5 755.5M209.1 755.5L213.9 755.5" stroke="#8a8a8a" stroke-width="1" fill="none"/>
<rect x="278.5" y="800.5" width="33" height="199.2" fill="#fff" stroke="#4a4a4a" stroke-width="1"/>
<rect x="311.5" y="800.5" width="33" height="199.2" fill="url(#p2)" stroke="#3c3c3c" stroke-width="1"/>
<rect x="344.5" y="723.5" width="34" height="276.2" fill="url(#p3)" stroke="#343434" stroke-width="1"/>
<rect x="378.5" y="786.5" width="33" height="213.2" fill="url(#p4)" stroke="#303030" stroke-width="1"/>
<path d="M294.5 800.5L294.5 779.5M292.1 779.5L296.9 779.5" stroke="#8a8a8a" stroke-width="1" fill="none"/>
<path d="M328.5 800.5L328.5 785.5M326.1 785.5L330.9 785.5" stroke="#8a8a8a" stroke-width="1" fill="none"/>
<path d="M361.5 723.5L361.5 705.5M359.1 705.5L363.9 705.5" stroke="#8a8a8a" stroke-width="1" fill="none"/>
<path d="M394.5 786.5L394.5 773.5M392.1 773.5L396.9 773.5" stroke="#8a8a8a" stroke-width="1" fill="none"/>
<rect x="461.5" y="726.5" width="33" height="273.2" fill="#fff" stroke="#4a4a4a" stroke-width="1"/>
<rect x="494.5" y="766.5" width="33" height="233.2" fill="url(#p2)" stroke="#3c3c3c" stroke-width="1"/>
<rect x="527.5" y="723.5" width="34" height="276.2" fill="url(#p3)" stroke="#343434" stroke-width="1"/>
<rect x="561.5" y="635.5" width="33" height="364.2" fill="url(#p4)" stroke="#303030" stroke-width="1"/>
<path d="M477.5 726.5L477.5 709.5M475.1 709.5L479.9 709.5" stroke="#8a8a8a" stroke-width="1" fill="none"/>
<path d="M511.5 766.5L511.5 746.5M509.1 746.5L513.9 746.5" stroke="#8a8a8a" stroke-width="1" fill="none"/>
<path d="M544.5 723.5L544.5 704.5M542.1 704.5L546.9 704.5" stroke="#8a8a8a" stroke-width="1" fill="none"/>
<path d="M577.5 635.5L577.5 601.5M575.1 601.5L579.9 601.5" stroke="#8a8a8a" stroke-width="1" fill="none"/>
<path d="M70.15 571.3L70.15 1000.4" stroke="#1e1e1e" stroke-width="1.7" fill="none"/>
<path d="M65.95 999.7L619.2 999.7" stroke="#1e1e1e" stroke-width="1.7" fill="none"/>
<text x="52.6" y="1004" font-size="12.5" class="b" text-anchor="end">0</text>
<path d="M65.95 952.17L70.15 952.17" stroke="#111" stroke-width="1.3" fill="none"/>
<text x="52.6" y="956.47" font-size="12.5" class="b" text-anchor="end">200</text>
<path d="M65.95 904.63L70.15 904.63" stroke="#111" stroke-width="1.3" fill="none"/>
<text x="52.6" y="908.93" font-size="12.5" class="b" text-anchor="end">400</text>
<path d="M65.95 857.1L70.15 857.1" stroke="#111" stroke-width="1.3" fill="none"/>
<text x="52.6" y="861.4" font-size="12.5" class="b" text-anchor="end">600</text>
<path d="M65.95 809.57L70.15 809.57" stroke="#111" stroke-width="1.3" fill="none"/>
<text x="52.6" y="813.87" font-size="12.5" class="b" text-anchor="end">800</text>
<path d="M65.95 762.03L70.15 762.03" stroke="#111" stroke-width="1.3" fill="none"/>
<text x="52.6" y="766.33" font-size="12.5" class="b" text-anchor="end">1,000</text>
<path d="M65.95 714.5L70.15 714.5" stroke="#111" stroke-width="1.3" fill="none"/>
<text x="52.6" y="718.8" font-size="12.5" class="b" text-anchor="end">1,200</text>
<path d="M65.95 666.97L70.15 666.97" stroke="#111" stroke-width="1.3" fill="none"/>
<text x="52.6" y="671.27" font-size="12.5" class="b" text-anchor="end">1,400</text>
<path d="M65.95 619.43L70.15 619.43" stroke="#111" stroke-width="1.3" fill="none"/>
<text x="52.6" y="623.73" font-size="12.5" class="b" text-anchor="end">1,600</text>
<path d="M65.95 571.9L70.15 571.9" stroke="#111" stroke-width="1.3" fill="none"/>
<text x="52.6" y="576.2" font-size="12.5" class="b" text-anchor="end">1,800</text>
<text x="161.75" y="1017.2" font-size="12.3" class="b" text-anchor="middle">2nd OP</text>
<text x="344.8" y="1017.2" font-size="12.3" class="b" text-anchor="middle">2nd injection</text>
<text x="527.85" y="1017.2" font-size="12.3" class="b" text-anchor="middle">sacrifice</text>
<text transform="translate(14.6 785.3) rotate(-90)" x="-68.95" font-size="16.2" class="b" textLength="137.9" lengthAdjust="spacingAndGlyphs">Plasma FGF (pg/ml)</text>
<text transform="translate(12.4 540.9) scale(0.95 1)" font-size="31.3" fill="#000">B</text>
<path d="M328.5 683.4L328.5 665.5L365.5 665.5L365.5 683.4" stroke="#3c3c3c" stroke-width="1" fill="none"/>
<path d="M350.05 657.9L350.05 654.85M350.05 657.9L352.95 656.96M350.05 657.9L351.84 660.37M350.05 657.9L348.26 660.37M350.05 657.9L347.15 656.96" stroke="#1c1c1c" stroke-width="0.95" fill="none" stroke-linecap="round"/><circle cx="350.05" cy="657.9" r="0.75" fill="#1c1c1c"/>
<path d="M365.5 654.3L365.5 636.5L397.5 636.5L397.5 654.3" stroke="#3c3c3c" stroke-width="1" fill="none"/>
<path d="M386.05 623.8L386.05 626.85M386.05 623.8L383.15 624.74M386.05 623.8L384.26 621.33M386.05 623.8L387.84 621.33M386.05 623.8L388.95 624.74" stroke="#1c1c1c" stroke-width="0.95" fill="none" stroke-linecap="round"/><circle cx="386.05" cy="623.8" r="0.75" fill="#1c1c1c"/>
<path d="M515.5 548.8L515.5 531L577.5 531.8L577.5 549.6" stroke="#3c3c3c" stroke-width="1" fill="none"/>
<path d="M544.5 519.6L544.5 522.65M544.5 519.6L541.6 520.54M544.5 519.6L542.71 517.13M544.5 519.6L546.29 517.13M544.5 519.6L547.4 520.54" stroke="#1c1c1c" stroke-width="0.95" fill="none" stroke-linecap="round"/><circle cx="544.5" cy="519.6" r="0.75" fill="#1c1c1c"/>
<path d="M540.5 589L540.5 571.5L577.5 571.5L577.5 589" stroke="#3c3c3c" stroke-width="1" fill="none"/>
<path d="M557.6 564.3L557.6 561.25M557.6 564.3L560.5 563.36M557.6 564.3L559.39 566.77M557.6 564.3L555.81 566.77M557.6 564.3L554.7 563.36" stroke="#1c1c1c" stroke-width="0.95" fill="none" stroke-linecap="round"/><circle cx="557.6" cy="564.3" r="0.75" fill="#1c1c1c"/>
<rect x="636.7" y="760.1" width="5.9" height="5.9" fill="#fff" stroke="#444" stroke-width="1"/>
<text x="645.7" y="766.55" font-size="12" fill="#666">G1</text>
<rect x="636.7" y="779.75" width="5.9" height="5.9" fill="url(#p2)" stroke="#444" stroke-width="1"/>
<text x="645.7" y="786.2" font-size="12" fill="#666">G2</text>
<rect x="636.7" y="800.25" width="5.9" height="5.9" fill="url(#p3)" stroke="#444" stroke-width="1"/>
<text x="645.7" y="806.7" font-size="12" fill="#666">G3</text>
<rect x="636.7" y="820.55" width="5.9" height="5.9" fill="url(#p4)" stroke="#444" stroke-width="1"/>
<text x="645.7" y="827" font-size="12" fill="#666">G4</text>
<rect x="91.5" y="1138.5" width="33" height="374.1" fill="#fff" stroke="#4a4a4a" stroke-width="1"/>
<rect x="124.5" y="1163.5" width="34" height="349.1" fill="url(#p2)" stroke="#3c3c3c" stroke-width="1"/>
<rect x="158.5" y="1221.5" width="33" height="291.1" fill="url(#p3)" stroke="#343434" stroke-width="1"/>
<rect x="191.5" y="1152.5" width="33" height="360.1" fill="url(#p4)" stroke="#303030" stroke-width="1"/>
<path d="M108.5 1138.5L108.5 1134.5M106.1 1134.5L110.9 1134.5" stroke="#8a8a8a" stroke-width="1" fill="none"/>
<path d="M141.5 1163.5L141.5 1134.5M139.1 1134.5L143.9 1134.5" stroke="#8a8a8a" stroke-width="1" fill="none"/>
<path d="M174.5 1221.5L174.5 1184.5M172.1 1184.5L176.9 1184.5" stroke="#8a8a8a" stroke-width="1" fill="none"/>
<path d="M208.5 1152.5L208.5 1130.5M206.1 1130.5L210.9 1130.5" stroke="#8a8a8a" stroke-width="1" fill="none"/>
<rect x="274.5" y="1113.5" width="34" height="399.1" fill="#fff" stroke="#4a4a4a" stroke-width="1"/>
<rect x="308.5" y="1218.5" width="33" height="294.1" fill="url(#p2)" stroke="#3c3c3c" stroke-width="1"/>
<rect x="341.5" y="1239.5" width="33" height="273.1" fill="url(#p3)" stroke="#343434" stroke-width="1"/>
<rect x="374.5" y="1206.5" width="33" height="306.1" fill="url(#p4)" stroke="#303030" stroke-width="1"/>
<path d="M291.5 1113.5L291.5 1112.5M289.1 1112.5L293.9 1112.5" stroke="#3a3a3a" stroke-width="1" fill="none"/>
<path d="M324.5 1218.5L324.5 1210.5M322.1 1210.5L326.9 1210.5" stroke="#8a8a8a" stroke-width="1" fill="none"/>
<path d="M357.5 1239.5L357.5 1211.5M355.1 1211.5L359.9 1211.5" stroke="#8a8a8a" stroke-width="1" fill="none"/>
<path d="M391.5 1206.5L391.5 1191.5M389.1 1191.5L393.9 1191.5" stroke="#8a8a8a" stroke-width="1" fill="none"/>
<rect x="458.5" y="1103.5" width="33" height="409.1" fill="#fff" stroke="#4a4a4a" stroke-width="1"/>
<rect x="491.5" y="1254.5" width="33" height="258.1" fill="url(#p2)" stroke="#3c3c3c" stroke-width="1"/>
<rect x="524.5" y="1220.5" width="33" height="292.1" fill="url(#p3)" stroke="#343434" stroke-width="1"/>
<rect x="557.5" y="1215.5" width="33" height="297.1" fill="url(#p4)" stroke="#303030" stroke-width="1"/>
<path d="M474.5 1103.5L474.5 1102.5M472.1 1102.5L476.9 1102.5" stroke="#3a3a3a" stroke-width="1" fill="none"/>
<path d="M508.5 1254.5L508.5 1231.5M506.1 1231.5L510.9 1231.5" stroke="#8a8a8a" stroke-width="1" fill="none"/>
<path d="M541.5 1220.5L541.5 1188.5M539.1 1188.5L543.9 1188.5" stroke="#8a8a8a" stroke-width="1" fill="none"/>
<path d="M574.5 1215.5L574.5 1198.5M572.1 1198.5L576.9 1198.5" stroke="#8a8a8a" stroke-width="1" fill="none"/>
<path d="M66.45 1080.9L66.45 1513.3" stroke="#1e1e1e" stroke-width="1.5" fill="none"/>
<path d="M62.25 1512.6L616 1512.6" stroke="#1e1e1e" stroke-width="1.5" fill="none"/>
<text x="50.5" y="1516.2" font-size="12.1" class="b" text-anchor="end">0</text>
<path d="M62.25 1458.71L66.45 1458.71" stroke="#111" stroke-width="1.3" fill="none"/>
<text x="50.5" y="1462.31" font-size="12.1" class="b" text-anchor="end">50</text>
<path d="M62.25 1404.82L66.45 1404.82" stroke="#111" stroke-width="1.3" fill="none"/>
<text x="50.5" y="1408.42" font-size="12.1" class="b" text-anchor="end">100</text>
<path d="M62.25 1350.94L66.45 1350.94" stroke="#111" stroke-width="1.3" fill="none"/>
<text x="50.5" y="1354.54" font-size="12.1" class="b" text-anchor="end">150</text>
<path d="M62.25 1297.05L66.45 1297.05" stroke="#111" stroke-width="1.3" fill="none"/>
<text x="50.5" y="1300.65" font-size="12.1" class="b" text-anchor="end">200</text>
<path d="M62.25 1243.16L66.45 1243.16" stroke="#111" stroke-width="1.3" fill="none"/>
<text x="50.5" y="1246.76" font-size="12.1" class="b" text-anchor="end">250</text>
<path d="M62.25 1189.28L66.45 1189.28" stroke="#111" stroke-width="1.3" fill="none"/>
<text x="50.5" y="1192.88" font-size="12.1" class="b" text-anchor="end">300</text>
<path d="M62.25 1135.39L66.45 1135.39" stroke="#111" stroke-width="1.3" fill="none"/>
<text x="50.5" y="1138.99" font-size="12.1" class="b" text-anchor="end">350</text>
<path d="M62.25 1081.5L66.45 1081.5" stroke="#111" stroke-width="1.3" fill="none"/>
<text x="50.5" y="1085.1" font-size="12.1" class="b" text-anchor="end">400</text>
<text x="158.1" y="1530.5" font-size="11.4" class="b" text-anchor="middle">2nd OP</text>
<text x="341.3" y="1530.5" font-size="11.4" class="b" text-anchor="middle">2nd injection</text>
<text x="524.5" y="1530.5" font-size="11.4" class="b" text-anchor="middle">sacrifice</text>
<text transform="translate(24.9 1297.1) rotate(-90)" x="-61.25" font-size="13.8" class="b" textLength="122.5" lengthAdjust="spacingAndGlyphs">Plasma IGF (ng/ml)</text>
<text transform="translate(12.3 1063.6) scale(0.93 1)" font-size="32" fill="#000">C</text>
<path d="M293.5 1103.1L293.5 1086.5L323.5 1086.5L323.5 1103.1" stroke="#3c3c3c" stroke-width="1" fill="none"/>
<path d="M309.7 1080.5L309.7 1077.45M309.7 1080.5L312.6 1079.56M309.7 1080.5L311.49 1082.97M309.7 1080.5L307.91 1082.97M309.7 1080.5L306.8 1079.56" stroke="#1c1c1c" stroke-width="0.95" fill="none" stroke-linecap="round"/><circle cx="309.7" cy="1080.5" r="0.75" fill="#1c1c1c"/>
<path d="M473.5 1092.5L473.5 1076.5L503.5 1076.5L503.5 1092.5" stroke="#3c3c3c" stroke-width="1" fill="none"/>
<path d="M487.9 1071.5L487.9 1068.45M487.9 1071.5L490.8 1070.56M487.9 1071.5L489.69 1073.97M487.9 1071.5L486.11 1073.97M487.9 1071.5L485 1070.56" stroke="#1c1c1c" stroke-width="0.95" fill="none" stroke-linecap="round"/><circle cx="487.9" cy="1071.5" r="0.75" fill="#1c1c1c"/>
<rect x="631.8" y="1273.3" width="5.6" height="5.6" fill="#fff" stroke="#444" stroke-width="1"/>
<text x="640.4" y="1279.9" font-size="11.3" fill="#666">G1</text>
<rect x="631.8" y="1291.9" width="5.6" height="5.6" fill="url(#p2)" stroke="#444" stroke-width="1"/>
<text x="640.4" y="1298.5" font-size="11.3" fill="#666">G2</text>
<rect x="631.8" y="1310.7" width="5.6" height="5.6" fill="url(#p3)" stroke="#444" stroke-width="1"/>
<text x="640.4" y="1317.3" font-size="11.3" fill="#666">G3</text>
<rect x="631.8" y="1329.5" width="5.6" height="5.6" fill="url(#p4)" stroke="#444" stroke-width="1"/>
<text x="640.4" y="1336.1" font-size="11.3" fill="#666">G4</text>
</svg>
</body></html>
